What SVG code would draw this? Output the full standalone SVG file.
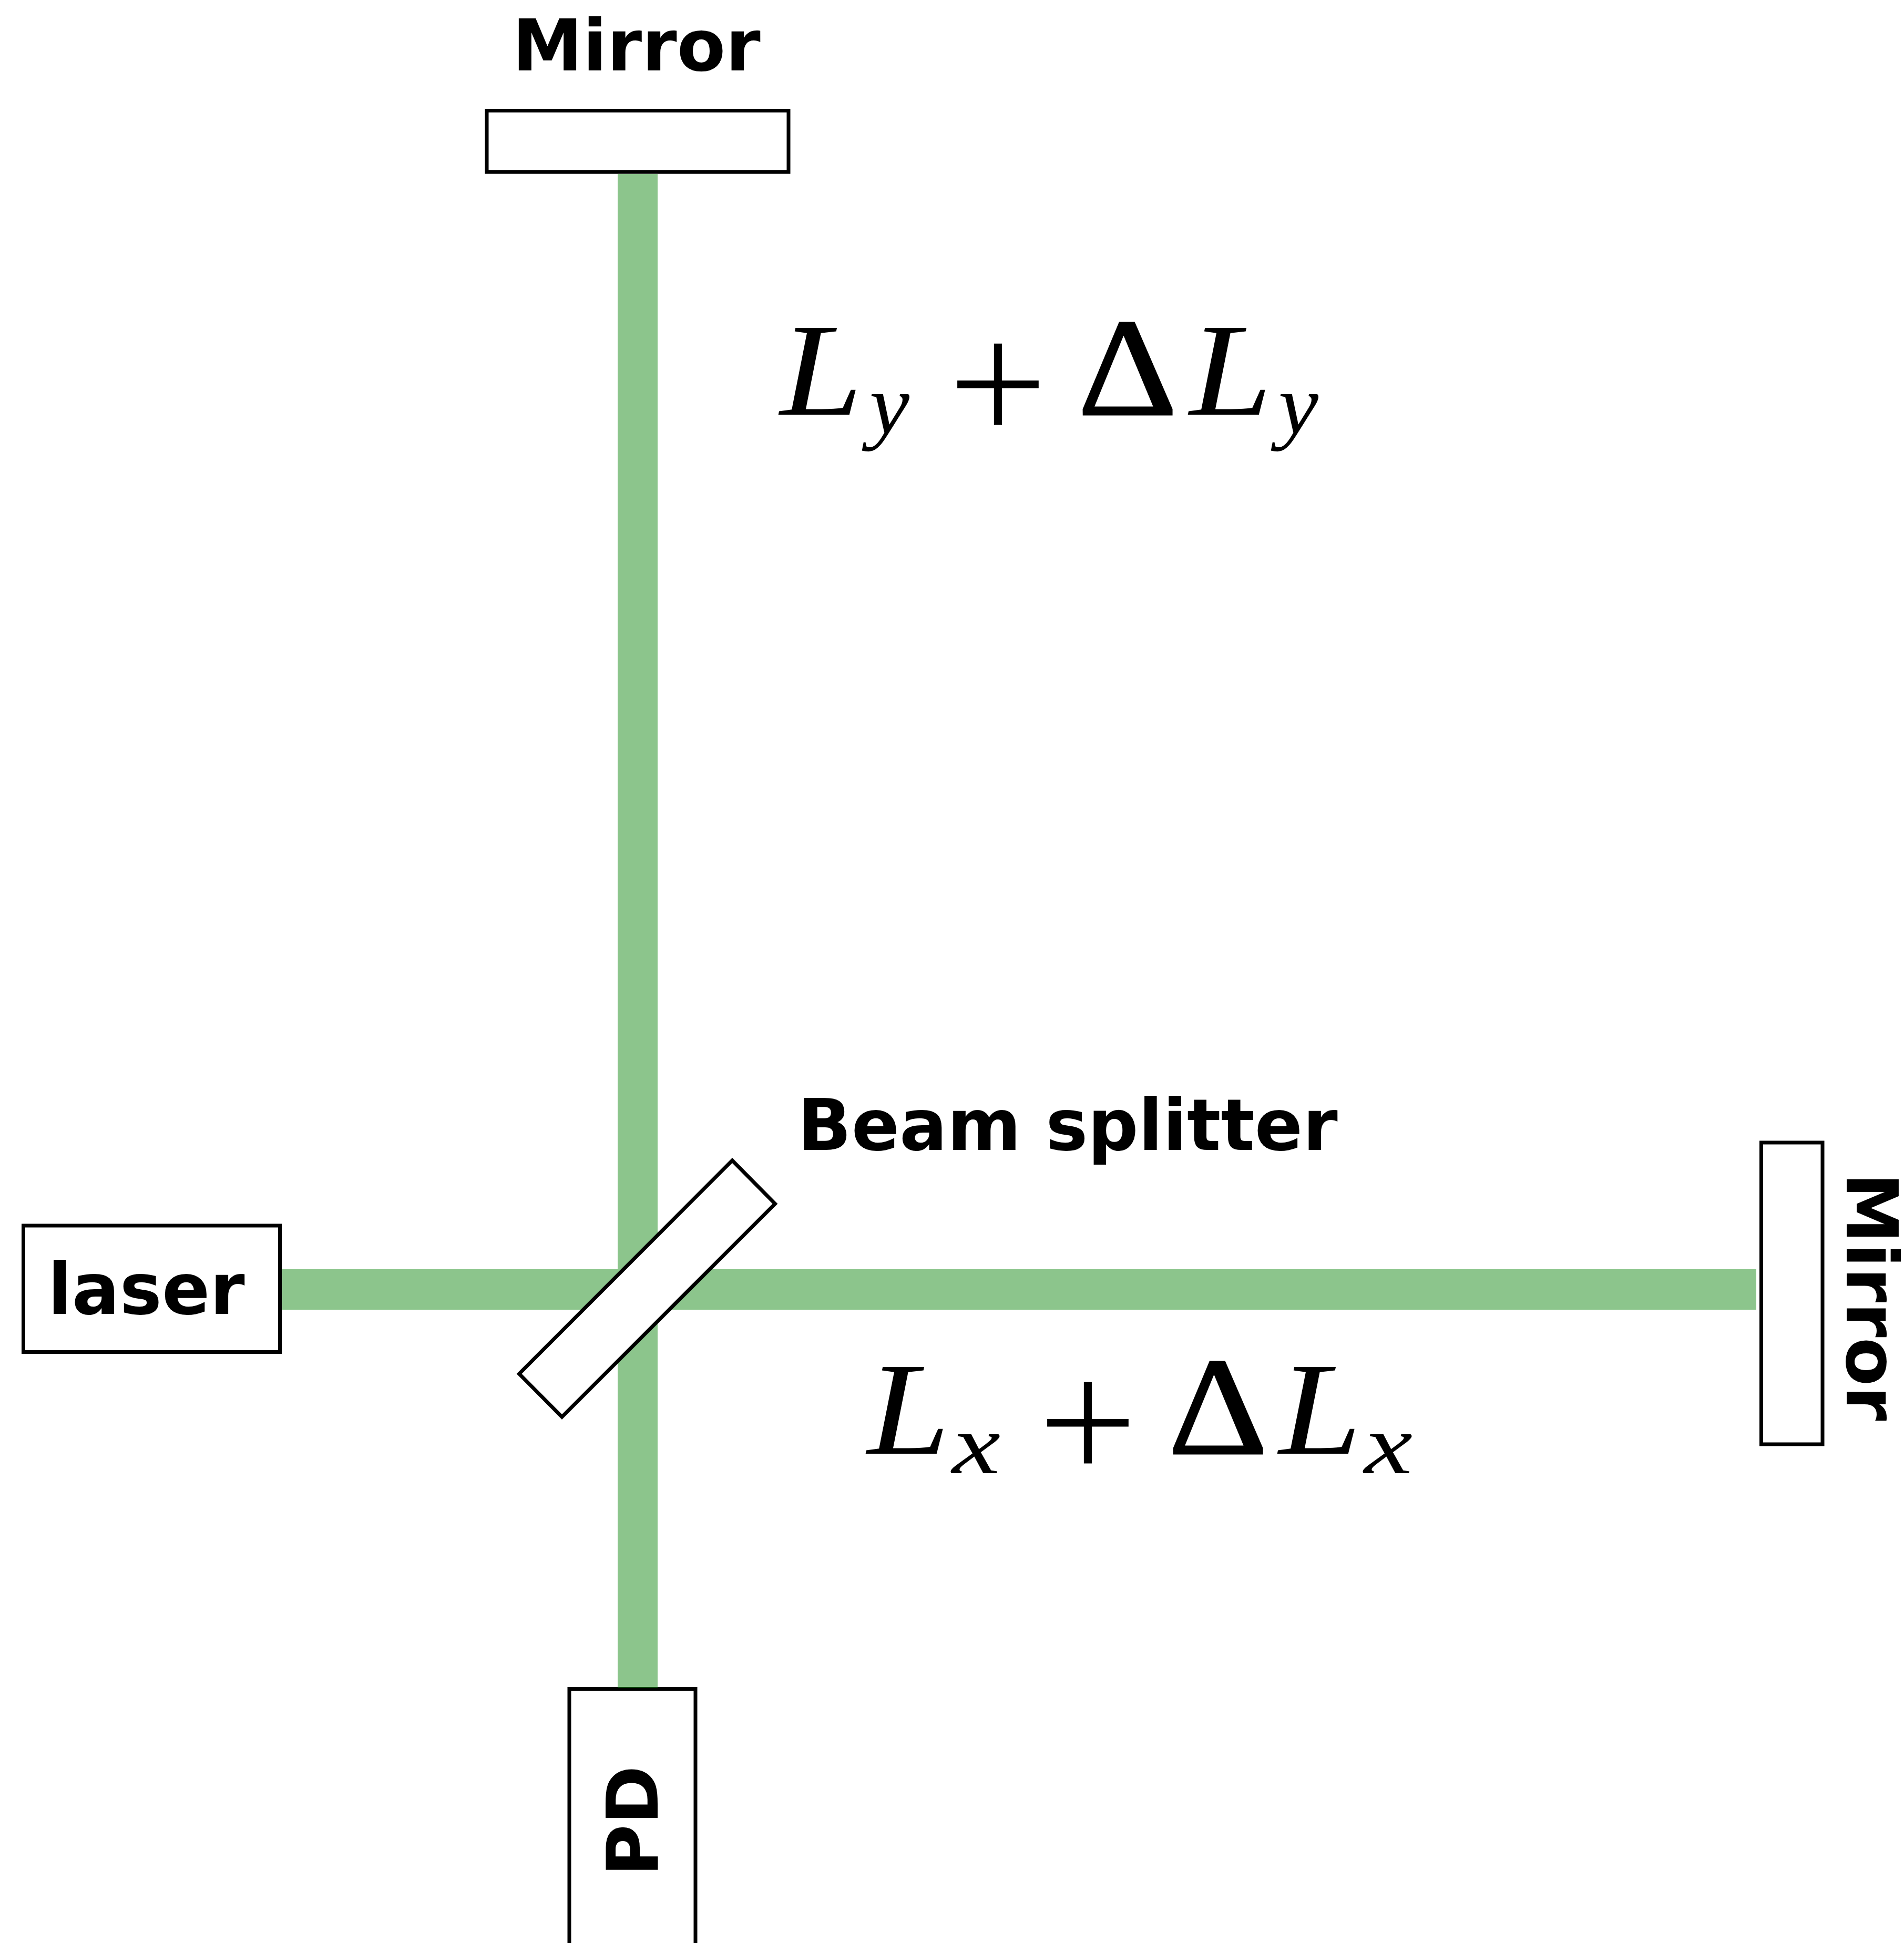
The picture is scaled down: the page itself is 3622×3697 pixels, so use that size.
<svg xmlns="http://www.w3.org/2000/svg" width="3622" height="3697" viewBox="0 0 3622 3697">
<style>
.box{fill:#fff;stroke:#000;stroke-width:7;stroke-linejoin:miter}
.lbl{font-family:"DejaVu Sans",sans-serif;font-weight:700;font-size:134.7px;fill:#000}
.math{font-family:"Liberation Serif",serif;fill:#000}
.it{font-style:italic}
.L{font-size:252px}
.s{font-size:160px}
.p{font-family:Inter,sans-serif;font-weight:200;font-size:358px}
.d{font-size:265px;stroke:#000;stroke-width:3}
</style>
<rect width="3622" height="3697" fill="#fff"/>
<g id="pd"><rect class="box" x="1083" y="3213.5" width="240" height="500"/><text class="lbl" transform="translate(1251 3570) rotate(-90)">PD</text></g>
<g id="beams" opacity="0.5" fill="#198b19">
<path d="M1175 331H1251V2415H3341V2492H1251V3212H1175V2492H537V2415H1175Z"/>
</g>
<g id="mirror-y"><rect class="box" x="926" y="210.5" width="574" height="116.7"/><text class="lbl" x="974.6" y="134.3">Mirror</text></g>
<g id="mirror-x"><rect class="box" x="3350.5" y="2174" width="116.5" height="574"/><text class="lbl" transform="translate(3513.3 2231.6) rotate(90)">Mirror</text></g>
<g id="laser"><rect class="box" x="44.5" y="2332" width="488" height="240.5"/><text class="lbl" x="90.7" y="2500">laser</text></g>
<g id="splitter"><polygon class="box" points="1393,2208 1474.5,2290.5 1069,2696 987.6,2614"/><text class="lbl" x="1517" y="2188">Beam splitter</text></g>
<text id="ly" class="math" y="789"><tspan class="it L" x="1484" textLength="157" lengthAdjust="spacingAndGlyphs">L</tspan><tspan class="it s" x="1654" y="825" textLength="76" lengthAdjust="spacingAndGlyphs">y</tspan><tspan class="p" x="1783" y="833">+</tspan><tspan class="d" x="2050" y="789" textLength="190" lengthAdjust="spacingAndGlyphs">Δ</tspan><tspan class="it L" x="2263" textLength="157" lengthAdjust="spacingAndGlyphs">L</tspan><tspan class="it s" x="2432" y="825" textLength="76" lengthAdjust="spacingAndGlyphs">y</tspan></text>
<text id="lx" class="math" y="2766"><tspan class="it L" x="1650" textLength="157" lengthAdjust="spacingAndGlyphs">L</tspan><tspan class="it s" x="1811" y="2803" textLength="92" lengthAdjust="spacingAndGlyphs">x</tspan><tspan class="p" x="1954" y="2809">+</tspan><tspan class="d" x="2222" y="2766" textLength="190" lengthAdjust="spacingAndGlyphs">Δ</tspan><tspan class="it L" x="2433" textLength="157" lengthAdjust="spacingAndGlyphs">L</tspan><tspan class="it s" x="2595" y="2803" textLength="92" lengthAdjust="spacingAndGlyphs">x</tspan></text>
</svg>
